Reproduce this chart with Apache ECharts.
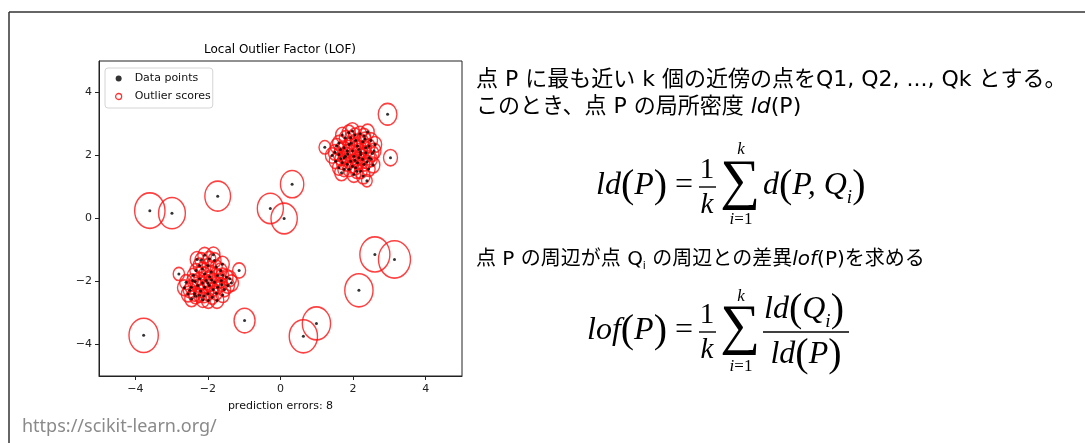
<!DOCTYPE html>
<html>
<head>
<meta charset="utf-8">
<script src="https://cdn.jsdelivr.net/npm/echarts@6/dist/echarts.min.js"></script>
<style>
html, body { margin: 0; padding: 0; background: #fff; }
#main { width: 1085px; height: 443px; }
</style>
</head>
<body>
<div id="main"></div>
<script>
// [x, y, outlier score radius 0..1]
const outliers = [
  [2.95, 3.31, 0.34], [3.03, 1.93, 0.19], [1.22, 2.26, 0.13], [2.38, 1.20, 0.11],
  [0.32, 1.09, 0.53], [-1.73, 0.71, 0.645], [-3.60, 0.25, 0.90], [-2.99, 0.17, 0.70],
  [-0.28, 0.32, 0.66], [0.10, 0.00, 0.675], [2.60, -1.14, 0.88], [3.14, -1.30, 1.00],
  [2.16, -2.28, 0.78], [-2.80, -1.76, 0.125], [-1.14, -1.65, 0.165], [-0.99, -3.24, 0.43],
  [-3.77, -3.71, 0.84], [0.63, -3.74, 0.78], [0.99, -3.33, 0.78]
];
const clusterA = [
  [1.98, 2.78, 0.19], [2.19, 2.69, 0.16], [1.79, 2.56, 0.15], [1.61, 2.40, 0.16], [2.49, 2.48, 0.17],
  [2.27, 2.44, 0.13], [2.07, 2.48, 0.12], [1.89, 2.35, 0.12], [1.75, 2.25, 0.13], [1.98, 2.14, 0.11],
  [2.16, 2.19, 0.11], [2.35, 2.25, 0.12], [2.58, 2.14, 0.18], [2.53, 2.06, 0.17], [1.42, 2.00, 0.17],
  [1.61, 2.03, 0.13], [1.79, 1.98, 0.12], [2.02, 1.98, 0.11], [2.21, 2.03, 0.11], [2.44, 1.93, 0.14],
  [1.52, 1.82, 0.16], [1.70, 1.77, 0.13], [1.93, 1.82, 0.12], [2.12, 1.77, 0.12], [2.30, 1.72, 0.13],
  [2.49, 1.88, 0.16], [1.61, 1.61, 0.16], [1.75, 1.56, 0.15], [1.89, 1.56, 0.15], [2.07, 1.61, 0.13],
  [2.21, 1.50, 0.16], [2.43, 1.57, 0.16], [2.02, 1.40, 0.18], [1.84, 2.14, 0.12], [2.26, 1.88, 0.12],
  [1.84, 1.72, 0.13], [1.65, 2.19, 0.13], [2.35, 2.09, 0.12], [2.12, 2.30, 0.12], [1.93, 2.56, 0.13],
  [2.30, 2.62, 0.16], [2.44, 2.30, 0.14], [1.98, 1.66, 0.12], [2.16, 1.93, 0.11], [1.75, 1.93, 0.12],
  [2.05, 2.65, 0.14], [2.40, 2.75, 0.17], [1.55, 2.30, 0.16], [1.70, 2.65, 0.17], [2.60, 2.35, 0.18],
  [1.50, 2.10, 0.17], [2.55, 1.70, 0.18], [1.68, 1.45, 0.18], [2.28, 1.35, 0.18], [1.88, 2.72, 0.17],
  [2.33, 2.52, 0.14], [1.95, 2.40, 0.12], [2.20, 2.10, 0.11], [1.85, 2.05, 0.12], [2.05, 1.85, 0.12],
  [2.38, 1.80, 0.13], [1.66, 1.90, 0.13], [2.10, 1.50, 0.15]
];
const clusterB = [
  [-2.09, -1.17, 0.18], [-1.96, -1.28, 0.16], [-1.82, -1.33, 0.17], [-2.23, -1.49, 0.16], [-2.00, -1.49, 0.13],
  [-1.77, -1.54, 0.14], [-2.33, -1.65, 0.14], [-2.09, -1.75, 0.12], [-1.91, -1.70, 0.12], [-1.73, -1.81, 0.13],
  [-1.49, -1.86, 0.17], [-1.40, -1.91, 0.18], [-2.60, -2.02, 0.16], [-2.42, -1.97, 0.13], [-2.23, -1.91, 0.12],
  [-2.05, -1.97, 0.11], [-1.82, -2.02, 0.12], [-1.63, -1.97, 0.13], [-2.46, -2.18, 0.14], [-2.28, -2.13, 0.12],
  [-2.09, -2.18, 0.11], [-1.96, -2.13, 0.11], [-1.73, -2.18, 0.13], [-1.45, -2.13, 0.17], [-2.37, -2.39, 0.16],
  [-2.23, -2.44, 0.14], [-2.00, -2.39, 0.13], [-1.77, -2.37, 0.14], [-1.59, -2.43, 0.16], [-2.14, -2.58, 0.17],
  [-1.99, -2.60, 0.18], [-2.34, -2.47, 0.16], [-2.11, -2.46, 0.13], [-1.88, -2.50, 0.14], [-2.50, -2.28, 0.16],
  [-1.55, -2.25, 0.16], [-2.18, -1.32, 0.16], [-1.90, -1.95, 0.11], [-2.15, -2.05, 0.11], [-1.65, -1.65, 0.16],
  [-2.40, -1.80, 0.14], [-1.85, -1.15, 0.17], [-2.55, -2.40, 0.17], [-1.62, -2.10, 0.13], [-2.30, -1.30, 0.18],
  [-1.60, -1.45, 0.18], [-2.65, -2.20, 0.18], [-1.35, -2.05, 0.19], [-1.75, -2.60, 0.18], [-2.45, -2.55, 0.18],
  [-2.15, -1.60, 0.13], [-1.95, -1.85, 0.12], [-2.20, -2.30, 0.13], [-1.85, -2.25, 0.13], [-2.35, -2.00, 0.13],
  [-1.60, -1.80, 0.15], [-2.00, -2.05, 0.12]
];
const xTicks = [-4, -2, 0, 2, 4];
const yTicks = [-4, -2, 0, 2, 4];

const allPts = outliers.concat(clusterA, clusterB);
const mpl = 'DejaVu Sans';
const jp = '"DejaVu Sans", "Noto Sans CJK JP"';
const serif = '"Liberation Serif", "DejaVu Serif"';
const minus = v => String(v).replace('-', '\u2212');

const chart = echarts.init(document.getElementById('main'));

function txt(x, y, text, size, extra) {
  return {
    type: 'text', x: x, y: y, silent: true,
    style: Object.assign({ text: text, fontSize: size, fontFamily: serif, fill: '#000',
      verticalAlign: 'middle', align: 'left' }, extra || {})
  };
}
const mathRich = {
  it: { fontFamily: serif, fontStyle: 'italic', fontSize: 32, lineHeight: 42 },
  p: { fontFamily: serif, fontSize: 40, lineHeight: 42 },
  n: { fontFamily: serif, fontSize: 32, lineHeight: 42 },
  sub: { fontFamily: serif, fontStyle: 'italic', fontSize: 19, lineHeight: 23, verticalAlign: 'bottom' }
};
function bar(x1, x2, y) {
  return { type: 'line', silent: true, shape: { x1: x1, y1: y, x2: x2, y2: y },
    style: { stroke: '#000', lineWidth: 1.4 } };
}
const limRich = { it: { fontFamily: serif, fontSize: 17, fontStyle: 'italic' }, n: { fontFamily: serif, fontSize: 17 } };

const option = {
  animation: false,
  grid: { left: 99, right: 623, top: 61, bottom: 67, show: true, borderColor: '#222', borderWidth: 1 },
  xAxis: {
    type: 'value', min: -5, max: 5,
    splitLine: { show: false },
    axisLine: { show: true, onZero: false, lineStyle: { color: '#222', width: 1 } },
    axisTick: { show: true, length: 4, customValues: xTicks, lineStyle: { color: '#222' } },
    axisLabel: { customValues: xTicks, formatter: minus, fontFamily: mpl, fontSize: 11, color: '#222', margin: 8 },
    name: 'prediction errors: 8', nameLocation: 'middle', nameGap: 25,
    nameTextStyle: { fontFamily: mpl, fontSize: 11, color: '#111' }
  },
  yAxis: {
    type: 'value', min: -5, max: 5,
    splitLine: { show: false },
    axisLine: { show: true, onZero: false, lineStyle: { color: '#222', width: 1 } },
    axisTick: { show: true, length: 4, customValues: yTicks, lineStyle: { color: '#222' } },
    axisLabel: { customValues: yTicks, formatter: minus, fontFamily: mpl, fontSize: 11, color: '#222', margin: 7 }
  },
  legend: {
    orient: 'vertical', left: 105, top: 68,
    padding: [5, 2, 6, 10], itemGap: 7, itemWidth: 6, itemHeight: 6,
    borderColor: '#d4d4d4', borderWidth: 1, borderRadius: 3, backgroundColor: '#fff',
    textStyle: { fontFamily: mpl, fontSize: 11, color: '#111', padding: [0, 0, 0, 8] },
    data: [
      { name: 'Data points', icon: 'circle', itemStyle: { color: '#000' } },
      { name: 'Outlier scores', icon: 'circle', itemStyle: { color: '#fff', borderColor: '#ff0000', borderWidth: 1.3 } }
    ]
  },
  series: [
    {
      name: 'Outlier scores', type: 'scatter', silent: true,
      data: allPts,
      symbol: 'circle',
      symbolSize: v => { const w = 32 * Math.sqrt(v[2]); return [w, w * 1.17]; },
      itemStyle: { color: 'rgba(0,0,0,0)', borderColor: '#ff1010', borderWidth: 1.5 }
    },
    {
      name: 'Data points', type: 'scatter', silent: true,
      data: allPts.map(p => [p[0], p[1]]),
      symbolSize: 3,
      itemStyle: { color: '#000' }
    }
  ],
  graphic: [
    // slide frame
    { type: 'line', silent: true, shape: { x1: 9, y1: 12, x2: 1085, y2: 12 }, style: { stroke: '#333', lineWidth: 1.5 } },
    { type: 'line', silent: true, shape: { x1: 9, y1: 12, x2: 9, y2: 443 }, style: { stroke: '#333', lineWidth: 1.5 } },
    txt(280, 50, 'Local Outlier Factor (LOF)', 12, { fontFamily: mpl, align: 'center' }),
    txt(22, 427, 'https://scikit-learn.org/', 18, { fontFamily: '"Noto Sans"', fill: '#8a8a8a' }),

    txt(476, 80, '点 P に最も近い k 個の近傍の点をQ1, Q2, ..., Qk とする。', 22, { fontFamily: jp }),
    txt(476, 107, '{n|このとき、点 P の局所密度 }{i|ld}{n|(P)}', 22, { fontFamily: jp,
      rich: { n: { fontFamily: jp, fontSize: 22 }, i: { fontFamily: jp, fontSize: 22, fontStyle: 'italic' } } }),
    txt(476, 260, '{n|点 P の周辺が点 Q}{s|i}{n| の周辺との差異}{i|lof}{n|(P)を求める}', 20, { fontFamily: jp,
      rich: {
        n: { fontFamily: jp, fontSize: 20, lineHeight: 24 },
        i: { fontFamily: jp, fontSize: 20, lineHeight: 24, fontStyle: 'italic' },
        s: { fontFamily: jp, fontSize: 11, lineHeight: 11, verticalAlign: 'bottom' }
      } }),

    // formula 1
    txt(596, 186, '{it|ld}{p|(}{it|P}{p|)}', 32, { rich: mathRich }),
    txt(684, 186, '=', 32, { align: 'center' }),
    txt(707, 170, '1', 29, { align: 'center' }),
    bar(699, 716, 187),
    txt(707, 205, 'k', 29, { align: 'center', fontStyle: 'italic' }),
    txt(740, 183, '\u2211', 56, { align: 'center' }),
    txt(741, 150, 'k', 17, { align: 'center', fontStyle: 'italic' }),
    txt(741, 220, '{it|i}{n|=1}', 17, { align: 'center', rich: limRich }),
    txt(763, 186, '{it|d}{p|(}{it|P, Q}{sub|i}{p|)}', 32, { rich: mathRich }),

    // formula 2
    txt(587, 331, '{it|lof}{p|(}{it|P}{p|)}', 32, { rich: mathRich }),
    txt(684, 331, '=', 32, { align: 'center' }),
    txt(707, 315, '1', 29, { align: 'center' }),
    bar(699, 716, 332),
    txt(707, 350, 'k', 29, { align: 'center', fontStyle: 'italic' }),
    txt(740, 328, '\u2211', 56, { align: 'center' }),
    txt(741, 297, 'k', 17, { align: 'center', fontStyle: 'italic' }),
    txt(741, 367, '{it|i}{n|=1}', 17, { align: 'center', rich: limRich }),
    txt(804, 310, '{it|ld}{p|(}{it|Q}{sub|i}{p|)}', 32, { align: 'center', rich: mathRich }),
    bar(763, 849, 332),
    txt(806, 355, '{it|ld}{p|(}{it|P}{p|)}', 32, { align: 'center', rich: mathRich })
  ]
};
chart.setOption(option);
</script>
</body>
</html>
